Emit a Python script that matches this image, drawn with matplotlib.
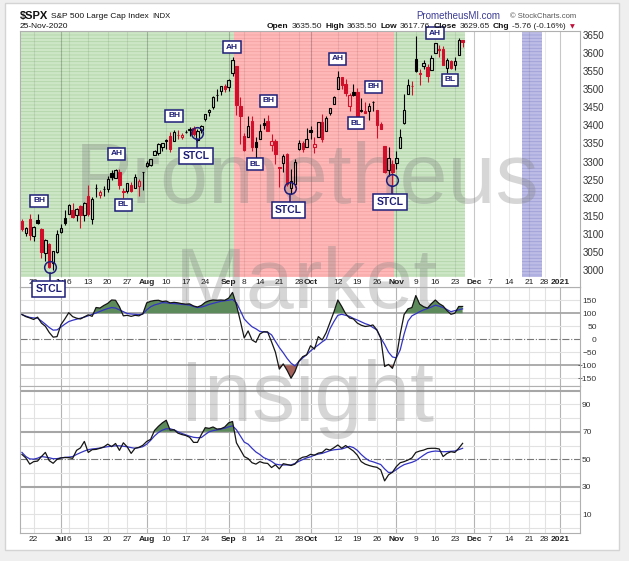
import matplotlib
matplotlib.use("Agg")
import matplotlib.pyplot as plt
import numpy as np
import pandas as pd
from matplotlib.patches import Rectangle
from matplotlib.transforms import blended_transform_factory

plt.rcParams["font.family"] = ["Liberation Sans", "DejaVu Sans"]
plt.rcParams["hatch.linewidth"] = 0.6

# ---------------------------------------------------------------- data
HOLIDAYS = ["2020-07-03", "2020-09-07", "2020-11-26", "2020-12-25", "2021-01-01"]
FIRST_DAY = "2020-06-17"
PREV_CLOSE = 3124.74  # close before the first bar

opens = [
    3136.13, 3101.64, 3140.29,
    3094.42, 3138.70, 3114.40, 3046.60, 3073.20,
    3018.59, 3050.20,
    3105.92, 3143.64,
    3155.29, 3166.44, 3153.07, 3176.17, 3152.47,
    3205.08, 3141.11, 3225.98, 3208.36, 3224.21,
    3224.29, 3268.52, 3254.86, 3271.64, 3218.58,
    3219.84, 3234.27, 3227.22, 3231.76, 3270.45,
    3288.26, 3289.92, 3317.37, 3323.17, 3340.05,
    3356.04, 3370.34, 3355.46, 3372.95, 3368.66,
    3380.86, 3387.04, 3392.51, 3360.48, 3386.01,
    3418.09, 3435.95, 3449.97, 3485.14, 3494.69,
    3509.73,
    3507.44, 3543.76, 3564.74, 3453.60,
    3371.88, 3369.02, 3412.53, 3352.70,
    3363.56, 3407.73, 3411.23, 3346.86, 3357.38,
    3285.57, 3295.75, 3320.11, 3226.14, 3236.66,
    3333.90, 3350.92, 3341.21,
    3385.87, 3338.94,
    3367.27, 3408.74, 3384.56, 3434.28, 3459.67,
    3500.02, 3534.01, 3515.47, 3453.72, 3493.50,
    3493.66, 3439.38, 3439.91, 3438.50, 3464.90,
    3441.42, 3403.15, 3342.48, 3277.17, 3293.59,
    3296.20, 3336.25, 3406.46, 3485.74, 3508.34,
    3583.04, 3543.26, 3563.22, 3562.67, 3552.57,
    3600.16, 3610.31, 3612.09, 3559.41, 3579.31,
    3566.82, 3594.52, 3635.50,
]
highs = [
    3141.16, 3120.00, 3155.53,
    3120.92, 3154.90, 3115.01, 3086.25, 3073.73,
    3053.89, 3111.51,
    3128.44, 3165.81,
    3182.59, 3184.15, 3171.80, 3179.78, 3186.82,
    3235.32, 3200.95, 3238.28, 3220.39, 3233.52,
    3258.61, 3277.29, 3279.32, 3279.99, 3227.26,
    3241.43, 3243.72, 3264.74, 3250.92, 3272.17,
    3302.73, 3306.84, 3330.77, 3351.03, 3352.54,
    3363.29, 3381.01, 3387.89, 3387.24, 3378.51,
    3387.59, 3395.06, 3399.54, 3390.80, 3399.96,
    3432.09, 3444.21, 3481.07, 3501.38, 3509.23,
    3514.77,
    3528.03, 3588.11, 3564.85, 3479.15,
    3379.97, 3424.77, 3425.55, 3368.95,
    3402.93, 3419.48, 3428.92, 3375.17, 3362.27,
    3285.57, 3320.31, 3323.35, 3278.70, 3306.88,
    3360.74, 3357.92, 3393.56,
    3397.18, 3369.10,
    3409.57, 3431.56, 3426.26, 3447.28, 3482.34,
    3549.85, 3534.01, 3527.94, 3489.08, 3515.76,
    3502.42, 3476.93, 3464.86, 3460.53, 3466.46,
    3441.42, 3409.51, 3342.48, 3341.05, 3304.93,
    3330.14, 3389.49, 3486.25, 3529.05, 3521.58,
    3645.99, 3557.22, 3581.16, 3569.02, 3593.66,
    3628.51, 3623.11, 3619.09, 3585.22, 3581.23,
    3589.81, 3642.31, 3635.50,
]
lows = [
    3108.03, 3093.51, 3083.11,
    3079.39, 3127.12, 3032.13, 3024.01, 3004.63,
    2999.74, 3047.83,
    3101.17, 3124.52,
    3155.29, 3142.93, 3136.53, 3115.70, 3136.22,
    3149.43, 3127.66, 3200.76, 3198.59, 3205.65,
    3215.16, 3247.77, 3253.10, 3222.66, 3200.05,
    3214.25, 3216.17, 3227.22, 3204.13, 3220.26,
    3284.53, 3286.37, 3317.37, 3318.14, 3328.72,
    3335.44, 3326.44, 3355.46, 3363.35, 3361.64,
    3379.22, 3370.15, 3369.66, 3354.69, 3379.31,
    3413.13, 3425.84, 3444.15, 3468.35, 3484.32,
    3493.25,
    3494.60, 3535.23, 3427.41, 3349.63,
    3329.27, 3366.84, 3329.25, 3310.47,
    3363.56, 3389.25, 3384.45, 3328.82, 3292.40,
    3229.10, 3270.95, 3232.57, 3209.45, 3228.44,
    3332.91, 3327.54, 3340.47,
    3361.39, 3323.69,
    3367.27, 3354.54, 3384.56, 3428.15, 3458.07,
    3499.61, 3500.86, 3480.55, 3440.89, 3480.45,
    3419.93, 3435.65, 3433.06, 3415.34, 3440.45,
    3364.86, 3388.71, 3268.89, 3259.82, 3233.94,
    3279.74, 3336.25, 3405.17, 3485.74, 3484.34,
    3547.48, 3511.91, 3557.00, 3518.58, 3552.57,
    3600.16, 3588.68, 3567.33, 3543.84, 3556.85,
    3552.77, 3594.52, 3617.76,
]
closes = [
    3113.49, 3115.34, 3097.74,
    3117.86, 3131.29, 3050.33, 3083.76, 3009.05,
    3053.24, 3100.29,
    3115.86, 3130.01,
    3179.72, 3145.32, 3169.94, 3152.05, 3185.04,
    3155.22, 3197.52, 3226.56, 3215.57, 3224.73,
    3251.84, 3257.30, 3276.02, 3235.66, 3215.63,
    3239.41, 3218.44, 3258.44, 3246.22, 3271.12,
    3294.61, 3306.51, 3327.77, 3349.16, 3351.28,
    3360.47, 3333.69, 3380.35, 3373.43, 3372.85,
    3381.99, 3389.78, 3374.85, 3385.51, 3397.16,
    3431.28, 3443.62, 3478.73, 3484.55, 3508.01,
    3500.31,
    3526.65, 3580.84, 3455.06, 3426.96,
    3331.84, 3398.96, 3339.19, 3340.97,
    3383.54, 3401.20, 3385.49, 3357.01, 3319.47,
    3281.06, 3315.57, 3236.92, 3246.59, 3298.46,
    3351.60, 3335.47, 3363.00,
    3380.80, 3348.42,
    3408.60, 3360.97, 3419.44, 3446.83, 3477.14,
    3534.22, 3511.93, 3488.67, 3483.34, 3483.81,
    3426.92, 3443.12, 3435.56, 3453.49, 3465.39,
    3400.97, 3390.68, 3271.03, 3310.11, 3269.96,
    3310.24, 3369.16, 3443.44, 3510.45, 3509.44,
    3550.50, 3545.53, 3572.66, 3537.01, 3585.15,
    3626.91, 3609.53, 3567.79, 3581.87, 3557.54,
    3577.59, 3635.41, 3629.65,
]

cci = [
    95, 87, 82, 76, 85, 62, 50, 26, 8, 10,
    56, 78, 102, 87, 81, 78, 86, 94, 88, 122,
    120, 130, 138, 151, 150, 125, 90, 92, 88, 92,
    90, 98, 140, 146, 149, 150, 145, 147, 140, 142,
    140, 137, 135, 136, 128, 124, 130, 142, 148, 151,
    150, 151, 150, 158, 180, 132, 70, 5, 32, -3,
    -12, 20, 29, 28, -10, -50, -115, -95, -120, -150,
    -125, -85, -67, -60, -25, -38, 10, -3, 25, 65,
    105, 151, 126, 98, 82, 78, 62, 54, 49, 51,
    55, 36, 5, -105, -97, -112, -70, 20, 95, 117,
    122, 168, 135, 125, 120, 137, 151, 137, 128, 110,
    96, 100, 126, 126,
]
cci_signal = [
    95, 89, 84, 82, 81, 70, 58, 45, 35, 36,
    47, 58, 68, 73, 77, 81, 85, 90, 96, 101,
    107, 113, 118, 122, 120, 113, 106, 99, 97, 96,
    95, 97, 113, 125, 132, 136, 141, 140, 138, 137,
    136, 134, 133, 131, 126, 122, 124, 128, 134, 138,
    142, 146, 148, 150, 153, 140, 110, 78, 62, 48,
    40, 30, 28, 27, 17, -8, -32, -52, -74, -92,
    -103, -86, -72, -60, -45, -33, -22, -10, 0, 40,
    68, 92, 96, 92, 88, 80, 74, 67, 60, 55,
    45, 36, 5, -20, -50, -68, -72, -41, 20, 70,
    90, 98, 106, 113, 118, 124, 131, 127, 122, 114,
    106, 110, 113, 117,
]
rsi = [
    53.5, 51, 46.5, 48.3, 48.7, 52, 55, 49, 47.1, 50,
    51, 51.3, 51.2, 50.7, 56.5, 58.3, 63, 55, 57, 57.2,
    58, 59, 61, 59.2, 61.5, 56.5, 62, 59, 54.3, 58,
    58.7, 60.2, 63, 64.5, 71, 74, 76.5, 78.4, 71.2, 71.5,
    69, 68, 67.3, 66, 62.3, 62.3, 68, 73, 72.5, 73.5,
    72, 72.2, 73.5, 76.5, 77.5, 62, 57, 52, 50.5, 47.5,
    46.5, 48.3, 47.3, 47, 44, 46, 43, 46.8, 46.2, 45.5,
    46.5, 50, 51.5, 52, 53.6, 53, 54.5, 55, 57.5, 56.7,
    58.4, 60.4, 58, 60, 58, 56, 53, 48.3, 46.5, 45.5,
    44.7, 44.2, 42.3, 34.3, 38.7, 40.6, 44.7, 47.5, 48.3, 49.5,
    51, 55, 56, 56.7, 57.8, 58, 58, 57.5, 52, 54.3,
    55.5, 55, 58, 61.6,
]
rsi_signal = [
    55, 52, 50.3, 50.1, 50.8, 52, 51.6, 51.1, 50.4, 50.5,
    51, 51.4, 51.6, 52, 53.5, 54.8, 56, 57, 57.5, 57.8,
    58.2, 58.7, 59.2, 59.5, 59.8, 59.8, 59.5, 59.1, 58.5, 58,
    58.5, 59.2, 61, 63.8, 67, 69.5, 71.2, 72.2, 72.2, 71.4,
    70, 68.8, 67.8, 66.8, 66, 65.7, 65.8, 68, 70, 70.8,
    71.4, 72, 72.6, 73.6, 74.3, 71.5, 67, 62.5, 61, 58,
    55.3, 53.5, 51.2, 50, 48.5, 46.5, 46, 45.9, 45.9, 45.9,
    47, 48.5, 49.8, 51, 51.8, 53, 53.8, 54.3, 55.3, 56.3,
    56.9, 57.2, 57.5, 58.4, 59.4, 58.5, 56.5, 53.5, 51, 49,
    48.2, 47.2, 46.2, 43, 40.4, 40.6, 42.5, 44.5, 46.1, 47,
    47.8, 49, 51, 53, 54.8, 55.6, 56, 55.8, 55.5, 55.6,
    55.8, 56, 57, 58,
]

# date axis labels
tick_dates = ["2020-06-22", "2020-07-01", "2020-07-06", "2020-07-13", "2020-07-20",
              "2020-07-27", "2020-08-03", "2020-08-10", "2020-08-17", "2020-08-24",
              "2020-09-01", "2020-09-08", "2020-09-14", "2020-09-21", "2020-09-28",
              "2020-10-01", "2020-10-12", "2020-10-19", "2020-10-26", "2020-11-02",
              "2020-11-09", "2020-11-16", "2020-11-23", "2020-12-01", "2020-12-07",
              "2020-12-14", "2020-12-21", "2020-12-28", "2021-01-04"]
tick_text = ["22", "Jul", "6", "13", "20", "27", "Aug", "10", "17", "24", "Sep",
             "8", "14", "21", "28", "Oct", "12", "19", "26", "Nov", "9", "16", "23",
             "Dec", "7", "14", "21", "28", "2021"]

# shaded regimes (in trading-day units, 0 = 1-Jul-2020)
regime_start = [-10.5, 44.5, 85.5]
regime_end = [44.5, 85.5, 103.5]
regime_kind = ["green", "red", "green"]
band_start, band_end = 118.3, 123.4

# pattern labels: text, day, price
note_text = ["BH", "AH", "BL", "BH", "AH", "BH", "BL", "AH", "BH", "BL", "AH", "BL"]
note_day = [-5.6, 14.3, 16.0, 29.0, 43.9, 53.3, 49.8, 70.9, 80.1, 75.7, 95.9, 99.8]
note_price = [3191, 3321, 3180, 3426, 3616, 3468, 3293, 3584, 3507, 3406, 3655, 3526]
stcl_day = [-2.8, 34.9, 58.7, 85.0]
stcl_price = [3009, 3379, 3226, 3249]
stcl_box_day = [-3.1, 34.6, 58.3, 84.4]
stcl_box_price = [2947, 3315, 3166, 3189]

# ---------------------------------------------------------------- calendar
cal = pd.bdate_range(FIRST_DAY, "2021-01-20", freq="C", holidays=HOLIDAYS)
zero = cal.get_loc(pd.Timestamp("2020-07-01"))
x = np.arange(len(closes)) - zero
tick_pos = np.array([cal.get_loc(pd.Timestamp(d)) - zero for d in tick_dates])
month_like = [not t.isdigit() or t == "2021" for t in tick_text]

W, H = 629, 561
fig = plt.figure(figsize=(W / 100, H / 100), dpi=100, facecolor="#efefef")
fig.add_artist(Rectangle((5 / W, 1 - 550 / H), 614 / W, 547 / H, transform=fig.transFigure,
                         fc="white", ec="#d4d4d4", lw=1, zorder=-5))


def box(top, bottom):
    return [20 / W, 1 - bottom / H, 560 / W, (bottom - top) / H]


ax_p = fig.add_axes(box(31, 287), zorder=3)
ax_c = fig.add_axes(box(287, 386), zorder=1)
ax_r = fig.add_axes(box(386, 533), zorder=1)

XMIN, XMAX = -10.5, 133.1
NAVY = "#1e1e78"
RED = "#d0102a"
GRID_W = "#e2e2e2"
GRID_M = "#b4b4b4"
SPINE = "#b0b0b0"
TICKC = "#333333"

for ax in (ax_p, ax_c, ax_r):
    ax.set_xlim(XMIN, XMAX)
    ax.set_xticks([])
    ax.yaxis.tick_right()
    ax.tick_params(axis="y", length=0, labelsize=6, labelcolor=TICKC)
    for s in ax.spines.values():
        s.set_color(SPINE)
        s.set_linewidth(0.8)
    # watermark, clipped to each panel
    for word, ybase in (("Prometheus", 203), ("Market", 308), ("Insight", 421)):
        ax.text(307 / W, 1 - ybase / H, word, transform=fig.transFigure, fontsize=62,
                color="#808080", alpha=0.32, ha="center", va="baseline",
                clip_on=True, zorder=1.5)

# ---------------------------------------------------------------- price panel
P_LO, P_HI, P_FLOOR = 2953, 3661, 2981
ax_p.set_ylim(P_LO, P_HI)
ax_p.set_yticks(np.arange(3000, 3651, 50))
ax_p.tick_params(axis="y", labelsize=7, pad=2)

fills = {"green": ("#cde7c6", "#b2d5a9"), "red": ("#ffb8b8", "#f4a3a3")}
for x0, x1, kind in zip(regime_start, regime_end, regime_kind):
    fc, hc = fills[kind]
    ax_p.add_patch(Rectangle((x0, P_FLOOR), x1 - x0, 800, fc=fc, ec=hc, lw=0,
                             hatch="-----", zorder=0.5))
ax_p.add_patch(Rectangle((band_start, P_FLOOR), band_end - band_start, 800, fc="#bcbce6",
                         ec="#a0a0d8", lw=0, hatch="-----", zorder=0.5))

for pos, is_month in zip(tick_pos, month_like):
    ax_p.vlines(pos, P_FLOOR, P_HI, color="black", alpha=0.22 if is_month else 0.08,
                lw=0.8, zorder=0.8)
    for ax, lo, hi in ((ax_c, -200, 220), (ax_r, -10, 110)):
        ax.vlines(pos, lo, hi, color=GRID_M if is_month else GRID_W, lw=0.8, zorder=0.8)

lbl_tr = blended_transform_factory(ax_p.transData, ax_p.transAxes)
for pos, txt, is_month in zip(tick_pos, tick_text, month_like):
    ax_p.text(pos, 5 / 256, txt, transform=lbl_tr, ha="center", va="center",
              fontsize=6, color="#222222", fontweight="bold" if is_month else "normal",
              zorder=4)

o, h, l, c = (np.array(v, dtype=float) for v in (opens, highs, lows, closes))
prev = np.r_[PREV_CLOSE, c[:-1]]
col = np.where(c >= prev, "black", RED)
face = np.where(c > o, "none", col)
body_lo = np.minimum(o, c)
body_hi = np.maximum(o, c)
ax_p.vlines(x, l, body_lo, colors=col, lw=0.8, zorder=3)
ax_p.vlines(x, body_hi, h, colors=col, lw=0.8, zorder=3)
ax_p.bar(x, np.maximum(body_hi - body_lo, 0.5), width=0.62, bottom=body_lo,
         color=list(face), edgecolor=list(col), linewidth=0.8, zorder=3.2)

for txt, d, p in zip(note_text, note_day, note_price):
    ax_p.text(d, p, txt, ha="center", va="center", fontsize=6, fontweight="bold",
              color=NAVY, zorder=6, clip_on=False,
              bbox=dict(boxstyle="square,pad=0.32", fc="white", ec=NAVY, lw=1.1))

r_price = 5.8 / (235 / 650)
for d, p, bd, bp in zip(stcl_day, stcl_price, stcl_box_day, stcl_box_price):
    ax_p.plot([d, d], [p - r_price, bp], color=NAVY, lw=1.1, zorder=5, clip_on=False)
    ax_p.plot(d, p, marker="o", ms=8.4, mfc="none", mec=NAVY, mew=1.1, zorder=5,
              clip_on=False)
    ax_p.text(bd, bp, "STCL", ha="center", va="center", fontsize=7.5, fontweight="bold",
              color=NAVY, zorder=6, clip_on=False,
              family=["Liberation Sans Narrow", "Liberation Sans"],
              bbox=dict(boxstyle="square,pad=0.3", fc="white", ec=NAVY, lw=1.1))

# ---------------------------------------------------------------- CCI panel
cci_a = np.array(cci, dtype=float)
ax_c.set_ylim(-180, 201)
ax_c.set_yticks([150, 100, 50, 0, -50, -100, -150])
ax_c.tick_params(axis="y", pad=12)
for t in ax_c.get_yticklabels():
    t.set_horizontalalignment("right")
for lvl in (150, 50, -50, -150):
    ax_c.axhline(lvl, color=GRID_W, lw=0.8, zorder=0.8)
ax_c.axhline(100, color="#a6a6a6", lw=1.3, zorder=1)
ax_c.axhline(-100, color="#a6a6a6", lw=1.3, zorder=1)
ax_c.axhline(0, color="#777777", lw=0.8, ls="-.", zorder=1)
ax_c.fill_between(x, cci_a, 100, where=cci_a > 100, interpolate=True,
                  color="#5d8a5b", lw=0, zorder=2)
ax_c.fill_between(x, cci_a, -100, where=cci_a < -100, interpolate=True,
                  color="#a3615a", lw=0, zorder=2)
ax_c.plot(x, cci_signal, color="#3434c4", lw=0.9, zorder=3)
ax_c.plot(x, cci_a, color="#151515", lw=0.9, zorder=4)

# ---------------------------------------------------------------- RSI panel
rsi_a = np.array(rsi, dtype=float)
ax_r.set_ylim(-3.6, 103.3)
ax_r.set_yticks([90, 70, 50, 30, 10])
ax_r.tick_params(axis="y", pad=1.5)
for lvl in (0, 10, 20, 40, 60, 80, 90):
    ax_r.axhline(lvl, color=GRID_W, lw=0.8, zorder=0.8)
ax_r.axhline(100, color="#a6a6a6", lw=1.5, zorder=1)
ax_r.axhline(70, color="#a6a6a6", lw=1.5, zorder=1)
ax_r.axhline(30, color="#a6a6a6", lw=1.5, zorder=1)
ax_r.axhline(50, color="#777777", lw=0.8, ls="-.", zorder=1)
ax_r.fill_between(x, rsi_a, 70, where=rsi_a > 70, interpolate=True,
                  color="#5d8a5b", lw=0, zorder=2)
ax_r.plot(x, rsi_signal, color="#3434c4", lw=0.9, zorder=3)
ax_r.plot(x, rsi_a, color="#151515", lw=0.9, zorder=4)
ax_r.set_xticks(tick_pos, tick_text)
ax_r.tick_params(axis="x", length=0, pad=2, labelsize=6, labelcolor="#222222")
for t, is_month in zip(ax_r.get_xticklabels(), month_like):
    if is_month:
        t.set_fontweight("bold")

# ---------------------------------------------------------------- header
renderer = fig.canvas.get_renderer()


def text_row(x_px, y_px, pieces, gap=3):
    for txt, size, weight, color in pieces:
        t = fig.text(x_px / W, 1 - y_px / H, txt, fontsize=size, fontweight=weight,
                     color=color, ha="left", va="center")
        x_px += t.get_window_extent(renderer).width + gap
    return x_px


text_row(20, 16, [("$SPX", 8, "bold", "#111111"),
                  ("S&P 500 Large Cap Index", 6, "normal", "#111111"),
                  ("INDX", 5.5, "normal", "#111111")])
text_row(20, 26.5, [("25-Nov-2020", 6, "normal", "#111111")])
end = text_row(267, 26.5, [
    ("Open", 6, "bold", "#111111"), ("3635.50", 6, "normal", "#222222"),
    ("High", 6, "bold", "#111111"), ("3635.50", 6, "normal", "#222222"),
    ("Low", 6, "bold", "#111111"), ("3617.76", 6, "normal", "#222222"),
    ("Close", 6, "bold", "#111111"), ("3629.65", 6, "normal", "#222222"),
    ("Chg", 6, "bold", "#111111"), ("-5.76 (-0.16%)", 6, "normal", "#222222"),
])
fig.text((end + 1) / W, 1 - 27 / H, "\u25bc", fontsize=4.5, color="#c0103a",
         ha="left", va="center", family=["DejaVu Sans"])
fig.text(416 / W, 1 - 16 / H, "PrometheusMI.com", fontsize=7, color="#3b3b96",
         ha="left", va="center")
fig.text(510 / W, 1 - 16 / H, "\u00a9 StockCharts.com", fontsize=5.5, color="#555555",
         ha="left", va="center")

fig.savefig("out.png", dpi=100, facecolor=fig.get_facecolor())
